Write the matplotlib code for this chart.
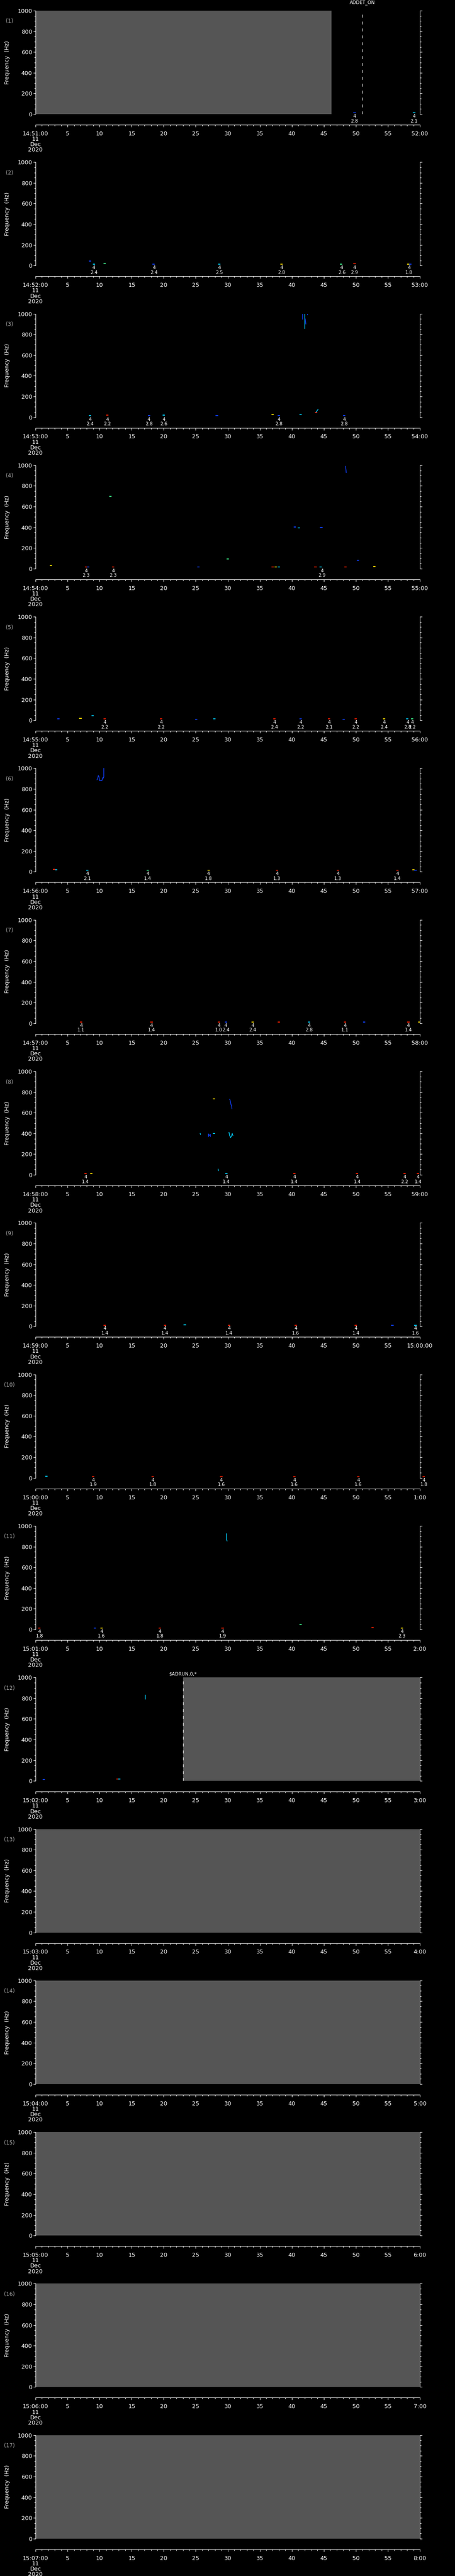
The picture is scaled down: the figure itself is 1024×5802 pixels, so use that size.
import matplotlib
matplotlib.use("Agg")
import matplotlib.pyplot as plt
import matplotlib.transforms as mtransforms
import numpy as np

W, H = 1024, 5802
NP = 17
PH = H / NP

start_labels = ["14:51:00", "14:52:00", "14:53:00", "14:54:00", "14:55:00", "14:56:00",
                "14:57:00", "14:58:00", "14:59:00", "15:00:00", "15:01:00", "15:02:00",
                "15:03:00", "15:04:00", "15:05:00", "15:06:00", "15:07:00"]
end_labels = ["52:00", "53:00", "54:00", "55:00", "56:00", "57:00", "58:00", "59:00",
              "15:00:00", "1:00", "2:00", "3:00", "4:00", "5:00", "6:00", "7:00", "8:00"]
date_lines = "11\nDec\n2020"

# grey (no data) spans, seconds
grey_spans = {0: (0, 46.2), 11: (23.0, 60)}
for k in range(12, 17):
    grey_spans[k] = (0, 60)

# dashed event markers: panel -> (time, label, label offset px above axes)
events = {0: (51.0, "ADDET_ON", 18), 11: (23.0, r"\$ADRUN,0,*", 8)}

# annotation times (s) and values for the "4 / x.x" labels
ann_t = [
    [49.8, 59.1],
    [9.1, 18.5, 28.7, 38.4, 47.8, 49.8, 58.3],
    [8.5, 11.2, 17.7, 20.0, 38.0, 48.2],
    [7.9, 12.1, 44.7],
    [10.8, 19.6, 37.3, 41.4, 45.8, 50.0, 54.4, 58.1, 58.8],
    [8.1, 17.5, 27.0, 37.7, 47.2, 56.5],
    [7.1, 18.1, 28.6, 29.7, 33.9, 42.7, 48.3, 58.2],
    [7.8, 29.8, 40.4, 50.2, 57.6, 59.7],
    [10.8, 20.2, 30.2, 40.6, 50.0, 59.3],
    [9.0, 18.3, 29.0, 40.4, 50.4, 60.6],
    [0.6, 10.3, 19.4, 29.2, 57.2],
    [], [], [], [], [], [],
]
ann_v = [
    ["2.8", "2.1"],
    ["2.4", "2.4", "2.5", "2.8", "2.6", "2.9", "1.8"],
    ["2.4", "2.2", "2.8", "2.6", "2.8", "2.8"],
    ["2.3", "2.3", "2.9"],
    ["2.2", "2.2", "2.4", "2.2", "2.1", "2.2", "2.4", "2.8", "2.2"],
    ["2.1", "1.4", "1.8", "1.3", "1.3", "1.4"],
    ["1.1", "1.4", "1.0", "2.4", "2.4", "2.8", "1.1", "1.4"],
    ["1.4", "1.4", "1.4", "1.4", "2.2", "1.4"],
    ["1.4", "1.4", "1.4", "1.6", "1.4", "1.6"],
    ["1.9", "1.8", "1.6", "1.6", "1.6", "1.8"],
    ["1.8", "1.6", "1.8", "1.9", "2.3"],
    [], [], [], [], [], [],
]

BL, CY, GR, YE, RE = "#1040ff", "#00d0ff", "#40ff90", "#ffe000", "#ff2000"

# short spectral blips: (time s, freq Hz, colour)
marks = [
    [(49.8, 12, BL), (59.1, 12, CY)],
    [(8.5, 43, BL), (9.1, 14, CY), (10.8, 23, GR), (18.4, 14, BL), (28.7, 14, CY),
     (38.4, 14, YE), (47.7, 14, GR), (49.8, 18, RE), (58.2, 14, YE), (58.5, 14, BL)],
    [(8.5, 15, CY), (11.2, 18, RE), (17.7, 14, BL), (20.0, 18, CY), (28.3, 14, BL),
     (37.0, 22, YE), (38.0, 14, BL), (41.4, 22, CY), (48.2, 14, BL), (43.8, 45, RE)],
    [(2.4, 30, YE), (7.9, 16, RE), (8.2, 16, BL), (12.1, 16, RE), (25.4, 18, BL),
     (30.0, 95, GR), (37.0, 18, RE), (37.5, 18, YE), (38.0, 18, CY), (43.7, 18, RE),
     (44.5, 16, CY), (48.4, 16, RE), (50.3, 80, BL), (52.9, 20, YE), (11.7, 700, GR),
     (40.5, 405, BL), (41.1, 395, CY), (44.6, 400, BL)],
    [(3.6, 14, BL), (7.0, 18, YE), (8.9, 45, CY), (10.8, 14, RE), (19.6, 14, RE),
     (25.1, 8, BL), (27.9, 12, CY), (37.3, 14, RE), (41.4, 14, BL), (45.8, 14, RE),
     (48.1, 10, BL), (50.0, 14, RE), (54.4, 14, YE), (58.0, 12, CY), (58.8, 14, GR)],
    [(2.9, 22, RE), (3.2, 18, CY), (8.1, 14, CY), (17.5, 14, GR), (27.0, 14, YE),
     (37.7, 14, RE), (47.2, 14, RE), (56.5, 14, RE), (59.0, 18, YE), (59.3, 16, BL)],
    [(7.1, 14, RE), (18.1, 14, RE), (28.6, 14, RE), (29.7, 14, BL), (33.9, 14, YE),
     (38.0, 14, RE), (42.7, 14, CY), (48.3, 14, RE), (51.3, 14, BL), (58.2, 14, RE),
     (59.9, 14, YE)],
    [(7.8, 12, RE), (8.7, 14, YE), (29.8, 12, CY), (40.4, 12, RE), (50.2, 12, RE),
     (57.6, 14, RE), (59.7, 12, RE), (27.85, 735, YE), (27.85, 398, CY)],
    [(10.8, 12, RE), (20.2, 12, RE), (23.3, 16, CY), (30.2, 12, RE), (40.6, 12, RE),
     (50.0, 12, RE), (55.7, 8, BL), (59.3, 12, CY)],
    [(1.7, 16, CY), (9.0, 12, RE), (18.3, 12, RE), (29.0, 12, RE), (40.4, 12, RE),
     (50.4, 12, RE), (60.6, 12, RE)],
    [(0.6, 12, RE), (9.25, 14, BL), (10.3, 12, YE), (19.4, 12, RE), (29.2, 12, RE),
     (41.4, 48, GR), (52.6, 16, RE), (57.2, 14, YE)],
    [(1.3, 12, BL), (12.8, 20, RE), (13.1, 20, CY)],
    [], [], [], [], [],
]

# traced features: panel -> list of (times, freqs, colour)
tracks = {
    2: [([41.7, 41.7], [1000, 945], BL), ([42.05, 42.05], [1000, 855], CY),
        ([42.1, 42.2], [950, 900], BL), ([42.45, 42.45], [1000, 990], BL),
        ([43.8, 44.1], [50, 75], CY)],
    3: [([48.4, 48.45, 48.5], [990, 960, 930], BL)],
    5: [([9.6, 9.7, 9.8, 9.9, 10.0, 10.1, 10.2, 10.35, 10.5, 10.6, 10.65, 10.65],
         [890, 900, 930, 920, 880, 885, 880, 880, 910, 905, 920, 1000], BL)],
    7: [([30.3, 30.35, 30.45, 30.5, 30.6, 30.65], [730, 725, 700, 680, 670, 640], BL),
        ([25.7, 25.75], [400, 390], CY),
        ([27.0, 27.0, 27.1, 27.3, 27.3], [370, 395, 380, 390, 370], BL),
        ([30.2, 30.3, 30.45, 30.6, 30.7, 30.8], [410, 380, 360, 375, 400, 380], CY),
        ([28.5, 28.55], [55, 40], CY)],
    10: [([29.8, 29.8, 29.9], [925, 870, 855], CY)],
    11: [([17.1, 17.1], [830, 790], CY)],
}


def px_rect(x0, y0, w, h):
    return [x0 / W, 1 - (y0 + h) / H, w / W, h / H]


plt.rcParams['font.family'] = ['DejaVu Sans']
fig = plt.figure(figsize=(W / 100, H / 100), dpi=100, facecolor='black')

AX_X, AX_W = 80, 865
for i in range(NP):
    top = i * PH
    ax = fig.add_axes(px_rect(AX_X, top + 24, AX_W, 233))
    ax.set_facecolor('black')
    ax.set_xlim(0, 60)
    ax.set_ylim(0, 1000)
    for s in ('top', 'bottom'):
        ax.spines[s].set_visible(False)
    for s in ('left', 'right'):
        ax.spines[s].set_color('white')
        ax.spines[s].set_linewidth(0.8)
    ax.set_xticks([])
    ax.set_yticks(np.arange(0, 1001, 200))
    ax.set_yticks(np.arange(0, 1001, 50), minor=True)
    ax.tick_params(axis='y', which='both', direction='out', left=True, right=True,
                   colors='white', labelsize=9.3, width=0.8, pad=2)
    ax.tick_params(axis='y', which='major', length=3.5)
    ax.tick_params(axis='y', which='minor', length=2.2)
    ax.set_ylabel("Frequency  (Hz)", color='white', fontsize=9, labelpad=14)
    ax.yaxis.set_label_coords(-0.066, 0.5)

    if i in grey_spans:
        a, b = grey_spans[i]
        ax.axvspan(a, b, color='#555555', lw=0)

    for t, f, c in marks[i]:
        ax.plot([t - 0.18, t + 0.18], [f, f], color=c, lw=1.4, clip_on=False,
                solid_capstyle='butt')
    for ts, fs, c in tracks.get(i, []):
        ax.plot(ts, fs, color=c, lw=1.1)

    if i in events:
        t, lab, off = events[i]
        ax.axvline(t, color='white', lw=0.8, dashes=(6, 8))
        ax.annotate(lab, (t, 1), xycoords=('data', 'axes fraction'),
                    xytext=(0, off * 0.72), textcoords='offset points',
                    ha='center', va='center', color='white', fontsize=7.5)

    trans = mtransforms.blended_transform_factory(ax.transData, ax.transAxes)
    for t, v in zip(ann_t[i], ann_v[i]):
        ax.text(t, -5 / 233, "4", transform=trans, ha='center', va='center',
                color='white', fontsize=7.5, clip_on=False)
        ax.text(t, -15.5 / 233, v, transform=trans, ha='center', va='center',
                color='white', fontsize=7.5, clip_on=False)

    fig.text(21 / W, 1 - (top + 48) / H, "(%d)" % (i + 1), color='#a8a8a8',
             fontsize=8.5, ha='center', va='center')

    # time axis
    tx = fig.add_axes(px_rect(AX_X, top + 280.5, AX_W, 0.5))
    tx.set_facecolor('none')
    for s in ('top', 'left', 'right'):
        tx.spines[s].set_visible(False)
    tx.spines['bottom'].set_color('white')
    tx.spines['bottom'].set_linewidth(0.8)
    tx.set_xlim(0, 60)
    tx.set_yticks([])
    ticks = np.arange(0, 61, 5)
    tx.set_xticks(ticks)
    tx.set_xticks(np.arange(0, 61, 1), minor=True)
    labels = [start_labels[i] + "\n" + date_lines] + [str(k) for k in ticks[1:-1]] + [end_labels[i]]
    tx.set_xticklabels(labels)
    tx.tick_params(axis='x', which='both', direction='out', colors='white', width=0.8,
                   labelsize=9.3, pad=6.5)
    tx.tick_params(axis='x', which='major', length=3.5)
    tx.tick_params(axis='x', which='minor', length=2)
    for lab in tx.get_xticklabels():
        lab.set_linespacing(0.92)

fig.savefig("out.png", dpi=100, facecolor='black')
